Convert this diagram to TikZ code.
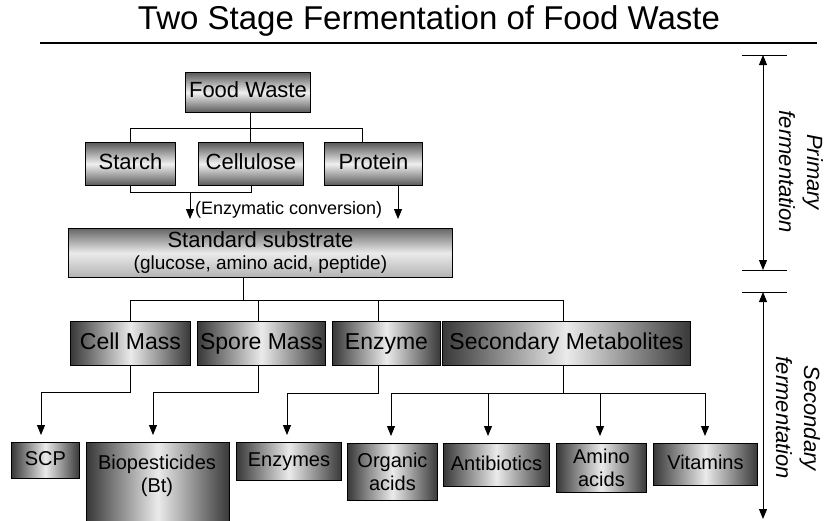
\documentclass[tikz,border=0pt]{standalone}
\usepackage{fontspec}
\setmainfont{Liberation Sans}
\usetikzlibrary{arrows.meta}
\begin{document}
\begin{tikzpicture}[x=1pt,y=-1pt,
  box/.style={draw=black,line width=0.9pt,inner sep=0pt,anchor=north west,align=center},
  vsh/.style={top color=black!65,bottom color=black!65,middle color=black!6},
  ssh/.style={top color=black!60,bottom color=black!30,middle color=black!8},
  hsh/.style={left color=black!78,right color=black!78,middle color=black!8},
  ln/.style={line width=0.9pt},
  arr/.style={ln,-{Triangle[length=10pt,width=8pt]}},
  dim/.style={ln,{Triangle[length=10pt,width=8pt]}-{Triangle[length=10pt,width=8pt]}},
  fA/.style={font=\fontsize{22}{24}\selectfont,text height=16pt,text depth=5pt},
  fB/.style={font=\fontsize{23}{25}\selectfont,text height=17pt,text depth=5pt},
  fC/.style={font=\fontsize{20}{23}\selectfont},
  fS/.style={fC,text height=15pt,text depth=4.5pt},
  lab/.style={rotate=-90,align=center,font=\itshape\fontsize{22}{28}\selectfont}
]
\clip (0,0) rectangle (826,520);
\fill[white] (0,0) rectangle (826,520);

% title
\node[font=\fontsize{33}{36}\selectfont] (title) at (429,21) {Two Stage Fermentation of Food Waste};
\coordinate (ul1) at (40,43);
\coordinate (ul2) at (817,43);
\draw[line width=2pt] (ul1) -- (ul2);

% primary level
\node[box,vsh,fA,minimum width=125,minimum height=40] (fw) at (185,72) {Food Waste};
\node[box,vsh,fA,minimum width=90,minimum height=43] (st) at (85,142) {Starch};
\node[box,vsh,fA,minimum width=105,minimum height=43] (ce) at (198,142) {Cellulose};
\node[box,vsh,fA,minimum width=98,minimum height=43] (pr) at (324,142) {Protein};
\node[box,ssh,minimum width=384,minimum height=49,font=\fontsize{19}{22}\selectfont] (ss) at (68,228)
  {{\fontsize{22}{22}\selectfont Standard substrate}\\(glucose, amino acid, peptide)};

\coordinate (b1) at (250,128);
\coordinate (b2) at (362,128);
\draw[ln] (fw.south -| b1) -- (b1);
\draw[ln] (st.north) |- (b2) -- (b2 |- pr.north);
\draw[ln] (ce.north -| b1) -- (b1);
\draw[ln] (st.south) -- ++(0,7) -| (ce.south);
\coordinate (a1) at (190,192);
\coordinate (a2) at (398,185);
\draw[arr,shorten >=9pt] (a1) -- (a1 |- ss.north);
\draw[arr,shorten >=9pt] (a2) -- (a2 |- ss.north);
\node[anchor=west,inner sep=0pt,font=\fontsize{18}{20}\selectfont] (ec) at (195,210) {(Enzymatic conversion)};

% secondary level
\node[box,hsh,fB,minimum width=120,minimum height=44] (cm) at (70,321) {Cell Mass};
\node[box,hsh,fB,minimum width=128,minimum height=44] (sm) at (197,321) {Spore Mass};
\node[box,hsh,fB,minimum width=108,minimum height=44] (ez) at (332,321) {Enzyme};
\node[box,hsh,fB,minimum width=248,minimum height=44] (sc) at (442,321) {Secondary Metabolites};

\coordinate (c0) at (243,300);
\coordinate (h2) at (563,300);
\coordinate (k2) at (258,300);
\coordinate (k3) at (378,300);
\draw[ln] (c0 |- ss.south) -- (c0);
\draw[ln] (cm.north) |- (h2) -- (h2 |- sc.north);
\draw[ln] (k2) -- (k2 |- sm.north);
\draw[ln] (k3) -- (k3 |- ez.north);

% products
\node[box,hsh,fS,minimum width=68,minimum height=36] (scp) at (11,442) {SCP};
\node[box,hsh,minimum width=143,minimum height=84] (bio) at (86,442) {};
\node[fC,align=center,inner sep=0pt] (biot) at (157,476) {Biopesticides\\(Bt)};
\node[box,hsh,fS,minimum width=105,minimum height=38] (ezs) at (236,442) {Enzymes};
\node[box,hsh,fC,minimum width=90,minimum height=57] (oa) at (347,443) {Organic\\acids};
\node[box,hsh,fS,minimum width=106,minimum height=43] (ab) at (443,443) {Antibiotics};
\node[box,hsh,fC,minimum width=90,minimum height=49] (aa) at (556,443) {Amino\\acids};
\node[box,hsh,fS,minimum width=104,minimum height=42] (vi) at (653,443) {Vitamins};

\coordinate (p1) at (130,392);
\coordinate (q1) at (41,392);
\draw[arr,shorten >=7pt] (p1 |- cm.south) -- (p1) -- (q1) -- (q1 |- scp.north);
\coordinate (p2) at (258,392);
\coordinate (q2) at (153,392);
\draw[arr,shorten >=7pt] (p2 |- sm.south) -- (p2) -- (q2) -- (q2 |- bio.north);
\coordinate (p3) at (378,393);
\coordinate (q3) at (287,393);
\draw[arr,shorten >=7pt] (p3 |- ez.south) -- (p3) -- (q3) -- (q3 |- ezs.north);
\coordinate (p4) at (563,393);
\coordinate (r1) at (391,393);
\coordinate (r2) at (488,393);
\coordinate (r3) at (600,393);
\coordinate (r4) at (705,393);
\draw[ln] (p4 |- sc.south) -- (p4);
\draw[ln] (r1) -- (r4);
\draw[arr,shorten >=7pt] (r1) -- (r1 |- oa.north);
\draw[arr,shorten >=7pt] (r2) -- (r2 |- ab.north);
\draw[arr,shorten >=7pt] (r3) -- (r3 |- aa.north);
\draw[arr,shorten >=7pt] (r4) -- (r4 |- vi.north);

% dimension arrows
\coordinate (t1l) at (742,55);  \coordinate (t1r) at (787,55);
\coordinate (t2l) at (742,270); \coordinate (t2r) at (787,270);
\coordinate (t3l) at (742,292); \coordinate (t3r) at (787,292);
\coordinate (v1) at (763,55);
\coordinate (v2) at (763,270);
\coordinate (v3) at (763,292);
\coordinate (v4) at (763,519);
\draw[ln] (t1l) -- (t1r);
\draw[ln] (t2l) -- (t2r);
\draw[ln] (t3l) -- (t3r);
\draw[dim] (v1) -- (v2);
\draw[dim] (v3) -- (v4);
\node[lab] (plab) at (801,172) {Primary\\fermentation};
\node[lab] (slab) at (798,418) {Secondary\\fermentation};
\end{tikzpicture}
\end{document}
